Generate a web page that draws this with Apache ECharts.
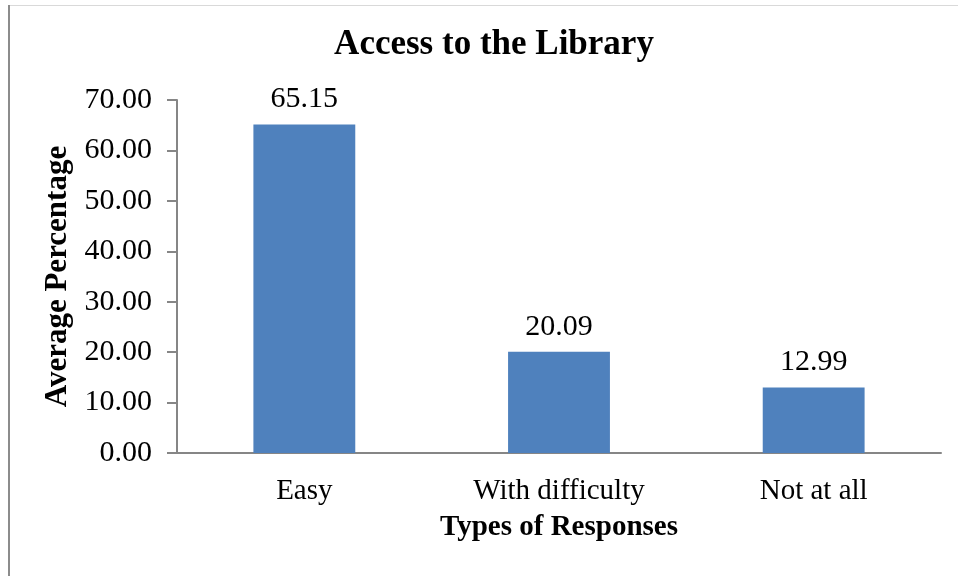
<!DOCTYPE html>
<html>
<head>
<meta charset="utf-8">
<script src="https://cdn.jsdelivr.net/npm/echarts@6/dist/echarts.min.js"></script>
<style>
  html, body { margin: 0; padding: 0; background: #fff; }
  #chart { width: 958px; height: 576px; }
</style>
</head>
<body>
<div id="chart"></div>
<script>
const categories = ['Easy', 'With difficulty', 'Not at all'];
const values = [65.15, 20.09, 12.99];
const yTicks = { min: 0, max: 70, interval: 10 };

const serif = '"Liberation Serif", "Times New Roman", serif';
const axisColor = '#868686';

const chart = echarts.init(document.getElementById('chart'));
chart.setOption({
  animation: false,
  textStyle: { fontFamily: serif },
  title: {
    text: 'Access to the Library',
    left: 489,
    textAlign: 'center',
    top: 22,
    textStyle: { fontFamily: serif, fontSize: 35, fontWeight: 'bold', color: '#000' }
  },
  // outer frame of the original figure
  graphic: [
    { type: 'line', shape: { x1: 9, y1: 5, x2: 9, y2: 576 }, style: { stroke: '#8c8c8c', lineWidth: 2 } },
    { type: 'line', shape: { x1: 10, y1: 5.5, x2: 958, y2: 5.5 }, style: { stroke: '#d9d9d9', lineWidth: 1 } }
  ],
  grid: { left: 177, right: 17, top: 100, bottom: 123 },
  xAxis: {
    type: 'category',
    data: categories,
    name: 'Types of Responses',
    nameLocation: 'middle',
    nameGap: 60,
    nameTextStyle: { fontFamily: serif, fontSize: 29, fontWeight: 'bold', color: '#000' },
    axisLine: { lineStyle: { color: axisColor, width: 2 } },
    axisTick: { show: false },
    axisLabel: { fontFamily: serif, fontSize: 29, color: '#000', margin: 24 }
  },
  yAxis: {
    type: 'value',
    min: yTicks.min,
    max: yTicks.max,
    interval: yTicks.interval,
    name: 'Average Percentage',
    nameLocation: 'middle',
    nameGap: 97,
    nameTextStyle: { fontFamily: serif, fontSize: 31, fontWeight: 'bold', color: '#000' },
    axisLine: { show: true, lineStyle: { color: axisColor, width: 2 } },
    axisTick: { show: true, length: 10, lineStyle: { color: axisColor, width: 2 } },
    splitLine: { show: false },
    axisLabel: {
      fontFamily: serif, fontSize: 30, color: '#000', margin: 25,
      formatter: v => v.toFixed(2)
    }
  },
  series: [{
    type: 'bar',
    data: values,
    barWidth: '40%',
    itemStyle: { color: '#4F81BD' },
    label: {
      show: true,
      position: 'top',
      distance: 10,
      fontFamily: serif,
      fontSize: 30,
      color: '#000',
      formatter: p => p.value.toFixed(2)
    }
  }]
});
</script>
</body>
</html>
